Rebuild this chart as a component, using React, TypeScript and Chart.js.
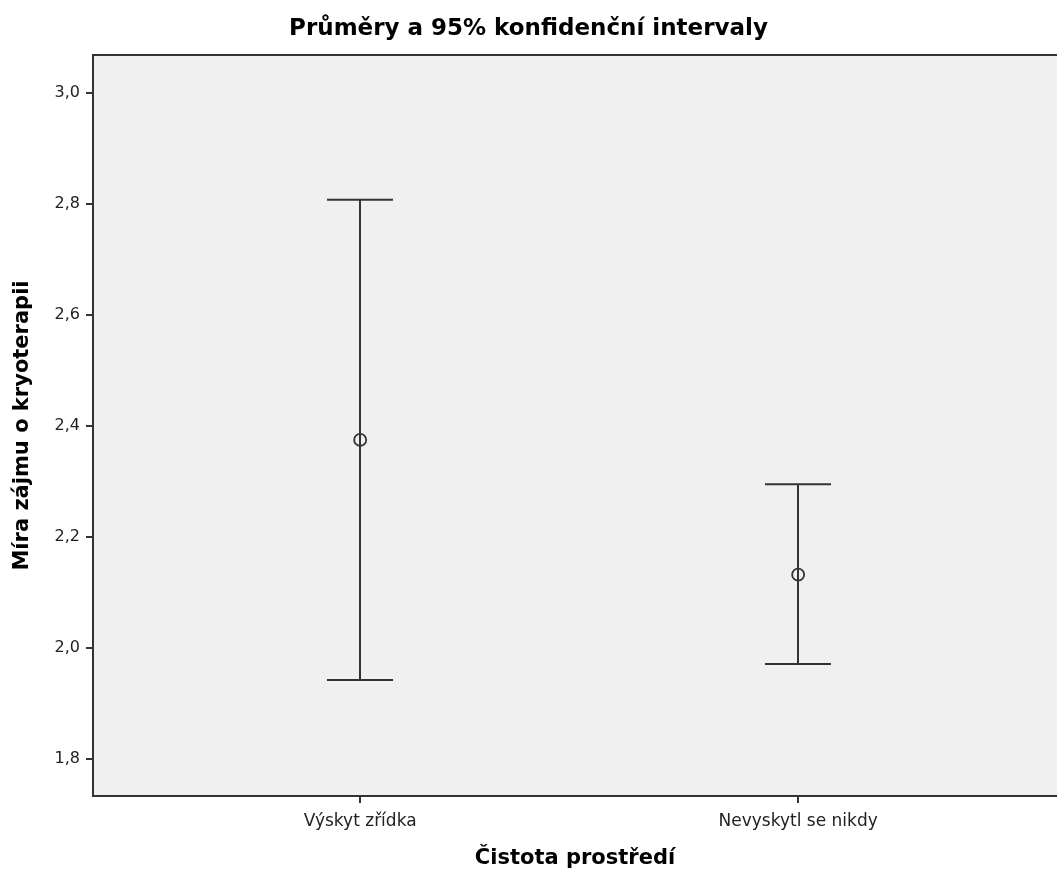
import React, { useEffect, useRef } from "react";
import { Chart, registerables } from "chart.js";

Chart.register(...registerables);

const categories = ["Výskyt zřídka", "Nevyskytl se nikdy"];
const means = [2.375, 2.132];
const lower = [1.942, 1.971];
const upper = [2.808, 2.295];
const yTicks = [1.8, 2.0, 2.2, 2.4, 2.6, 2.8, 3.0];

const TITLE = "Průměry a 95% konfidenční intervaly";
const X_TITLE = "Čistota prostředí";
const Y_TITLE = "Míra zájmu o kryoterapii";

const FONT = "'DejaVu Sans', sans-serif";
const DARK = "#333333";

const plotBgPlugin = {
  id: "plotBg",
  beforeDraw(chart: any) {
    const { ctx, chartArea } = chart;
    ctx.save();
    ctx.fillStyle = "#f0f0f0";
    ctx.fillRect(chartArea.left, chartArea.top, chartArea.right - chartArea.left, chartArea.bottom - chartArea.top);
    ctx.strokeStyle = DARK;
    ctx.lineWidth = 2;
    ctx.beginPath();
    ctx.moveTo(chartArea.left, chartArea.top);
    ctx.lineTo(chartArea.right, chartArea.top);
    ctx.stroke();
    ctx.restore();
  },
};

const errorBarPlugin = {
  id: "errorBars",
  beforeDatasetsDraw(chart: any) {
    const { ctx, scales } = chart;
    const xs = scales.x;
    const ys = scales.y;
    const capHalf = 33;
    ctx.save();
    ctx.strokeStyle = DARK;
    ctx.lineWidth = 2;
    categories.forEach((_, i) => {
      const px = Math.round(xs.getPixelForValue(i + 1));
      const yl = ys.getPixelForValue(lower[i]);
      const yh = ys.getPixelForValue(upper[i]);
      ctx.beginPath();
      ctx.moveTo(px, yl);
      ctx.lineTo(px, yh);
      ctx.moveTo(px - capHalf, yh);
      ctx.lineTo(px + capHalf, yh);
      ctx.moveTo(px - capHalf, yl);
      ctx.lineTo(px + capHalf, yl);
      ctx.stroke();
    });
    ctx.restore();
  },
};

export default function App() {
  const ref = useRef<HTMLCanvasElement | null>(null);

  useEffect(() => {
    if (!ref.current) return;
    const chart = new Chart(ref.current, {
      type: "scatter",
      data: {
        datasets: [
          {
            data: means.map((m, i) => ({ x: i + 1, y: m })),
            pointRadius: 6,
            pointBorderWidth: 1.8,
            pointBorderColor: DARK,
            pointBackgroundColor: "rgba(0,0,0,0)",
            showLine: false,
          },
        ],
      },
      plugins: [plotBgPlugin, errorBarPlugin],
      options: {
        animation: false,
        responsive: false,
        maintainAspectRatio: false,
        layout: { autoPadding: false, padding: { top: 0, right: 0, bottom: 0, left: 0 } },
        plugins: {
          legend: { display: false },
          tooltip: { enabled: false },
          title: {
            display: true,
            text: TITLE,
            color: "#000",
            font: { family: FONT, size: 23, weight: "bold" },
            padding: { top: 15, bottom: 12.4 },
          },
        },
        scales: {
          x: {
            type: "linear",
            min: 0.39,
            max: 2.591,
            afterBuildTicks: (scale: any) => {
              scale.ticks = categories.map((_, i) => ({ value: i + 1 }));
            },
            afterFit: (scale: any) => {
              scale.height = 82;
            },
            ticks: {
              color: "#222",
              font: { family: FONT, size: 17 },
              padding: 8,
              autoSkip: false,
              maxRotation: 0,
              callback: (v: any) => categories[Number(v) - 1] ?? "",
            },
            grid: {
              drawOnChartArea: false,
              drawTicks: true,
              tickLength: 7,
              color: DARK,
              lineWidth: 2,
            },
            border: { display: true, color: DARK, width: 2 },
            title: {
              display: true,
              text: X_TITLE,
              color: "#000",
              font: { family: FONT, size: 21, weight: "bold" },
              padding: { top: 7, bottom: 7 },
            },
          },
          y: {
            type: "linear",
            min: 1.733,
            max: 3.069,
            afterBuildTicks: (scale: any) => {
              scale.ticks = yTicks.map((v) => ({ value: v }));
            },
            afterFit: (scale: any) => {
              scale.width = 93;
            },
            ticks: {
              color: "#222",
              font: { family: FONT, size: 16 },
              padding: 6,
              callback: (v: any) => Number(v).toFixed(1).replace(".", ","),
            },
            grid: {
              drawOnChartArea: false,
              drawTicks: true,
              tickLength: 7,
              color: DARK,
              lineWidth: 2,
            },
            border: { display: true, color: DARK, width: 2 },
            title: {
              display: true,
              text: Y_TITLE,
              color: "#000",
              font: { family: FONT, size: 21, weight: "bold" },
              padding: { top: 10, bottom: 10 },
            },
          },
        },
      },
    } as any);
    return () => chart.destroy();
  }, []);

  return (
    <div style={{ position: "fixed", left: 0, top: 0, width: 1057, height: 878, background: "#fff" }}>
      <canvas ref={ref} width={1057} height={878} style={{ width: 1057, height: 878, display: "block" }} />
    </div>
  );
}
